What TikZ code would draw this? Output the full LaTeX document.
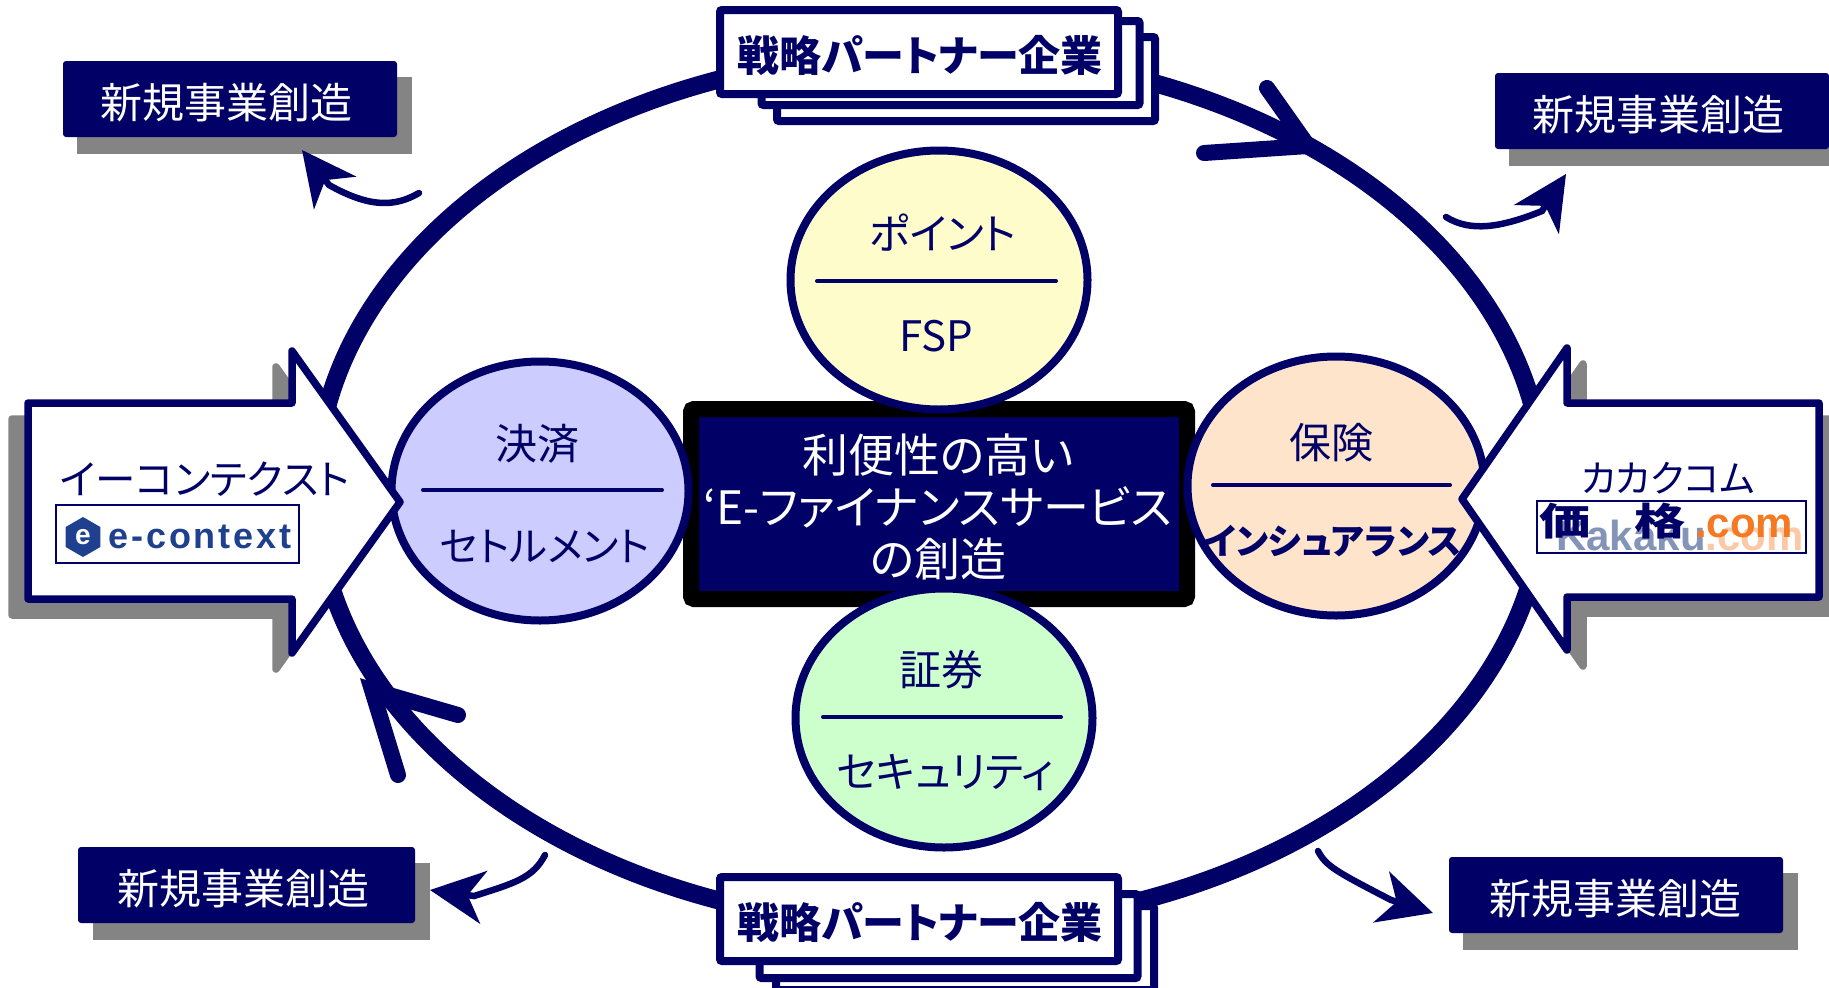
\documentclass[tikz,border=0pt]{standalone}
\usepackage{fontspec}
\usepackage{graphicx}
\setmainfont[RawFeature=+palt]{Noto Sans CJK JP}
\newfontfamily\logofont[LetterSpace=8]{Liberation Sans}
\newfontfamily\webfont{Liberation Sans}
\usetikzlibrary{shapes.geometric,arrows.meta}
\definecolor{navy}{HTML}{000066}
\definecolor{shadegray}{HTML}{848484}
\definecolor{logoblue}{HTML}{1F3F8F}
\definecolor{logopale}{HTML}{8494B8}
\definecolor{logoorange}{HTML}{F47920}
\tikzset{
  ringline/.style={draw=navy,line width=18pt},
  ringtip/.style={draw=navy,line width=16pt,line cap=round},
  hubbox/.style={rectangle,draw=black,fill=navy,line width=16pt,rounded corners=3pt},
  hubtext/.style={text=white,align=center,inner sep=0pt,font=\fontsize{46}{52}\selectfont},
  stackbox/.style={rectangle,draw=navy,fill=white,line width=8pt,rounded corners=2pt,minimum width=378pt,minimum height=84pt},
  stacktext/.style={text=navy,inner sep=0pt,font=\fontsize{42}{42}\selectfont\bfseries},
  newbiz/.style={rectangle,fill=navy,rounded corners=3pt,minimum width=334pt,minimum height=76pt},
  biztext/.style={text=white,inner sep=0pt,font=\fontsize{42}{42}\selectfont},
  bubble/.style={ellipse,draw=navy,line width=8pt,minimum width=297pt,minimum height=259pt,inner sep=0pt},
  bubbletext/.style={text=navy,inner sep=0pt,font=\fontsize{42}{42}\selectfont},
  divider/.style={draw=navy,line width=4pt,line cap=round},
  bigarrow/.style={draw=navy,fill=white,line width=7.5pt,line join=round},
  arrowshade/.style={draw=shadegray,fill=shadegray,line width=7.5pt,line join=round},
  logobox/.style={rectangle,draw=navy,fill=white,line width=1.5pt},
  curvedarrow/.style={draw=navy,line width=6.5pt,line cap=round,-{Stealth[length=54pt,width=53pt,inset=16pt,sep=0pt]}}
}
\begin{document}
\begin{tikzpicture}[x=1pt,y=-1pt]
\useasboundingbox (0,0) rectangle (1829,988);
% ring and its two tips
\draw[ringline] (930,490) ellipse [x radius=614pt,y radius=437pt];
\coordinate (tiptop) at (1308,146);
\coordinate (tipbot) at (372,690);
\draw[ringtip] (1267,88) -- (tiptop) -- (1204,153);
\draw[ringtip] (458,715) -- (tipbot) -- (398,775);
% partner stacks
\node[stackbox] (top3) at (966,79) {};
\node[stackbox] (top2) at (950.5,63) {};
\node[stackbox,minimum width=398pt] (top1) at (919,52) {};
\node[stacktext] (toptext) at (920,55.5) {戦略パートナー企業};
\node[stackbox] (bot3) at (965,948) {};
\node[stackbox] (bot2) at (948.5,936) {};
\node[stackbox,minimum width=398pt] (bot1) at (919,919) {};
\node[stacktext] (bottext) at (920,922.5) {戦略パートナー企業};
% centre
\node[hubbox,minimum width=496pt,minimum height=190pt] (hub) at (939,504) {};
\node[hubtext] (hubtxt) at (938,507.5) {利便性の高い\\‘E-ファイナンスサービス\\の創造};
% bubbles
\node[bubble,fill=yellow!20] (fsp) at (939,280) {};
\draw[divider] (817,281) -- (1056,281);
\node[bubbletext] (fspup) at (943,233) {ポイント};
\node[bubbletext] (fspdown) at (936,336) {FSP};
\node[bubble,fill={rgb,255:red,204;green,204;blue,255}] (settle) at (540,491) {};
\draw[divider] (423,490) -- (662,490);
\node[bubbletext] (settleup) at (537,444) {決済};
\node[bubbletext,font=\fontsize{40.5}{40.5}\selectfont] (settledown) at (545,546) {セトルメント};
\node[bubble,fill={rgb,255:red,255;green,228;blue,204}] (ins) at (1336,486) {};
\draw[divider] (1213,485) -- (1450,485);
\node[bubbletext] (insup) at (1331,443) {保険};
\node[bubbletext,font=\fontsize{35.5}{35.5}\selectfont\bfseries] (insdown) at (1333,541) {インシュアランス};
\node[bubble,fill={rgb,255:red,204;green,255;blue,204}] (sec) at (944,718) {};
\draw[divider] (823,717) -- (1061,717);
\node[bubbletext] (secup) at (941,670) {証券};
\node[bubbletext] (secdown) at (945,773) {セキュリティ};
% left arrow
\draw[arrowshade,shift={(-16,16)}] (28,403) -- (292,403) -- (292,351) -- (400,502) -- (292,653) -- (292,599) -- (28,599) -- cycle;
\draw[bigarrow] (28,403) -- (292,403) -- (292,351) -- (400,502) -- (292,653) -- (292,599) -- (28,599) -- cycle;
\node[bubbletext,font=\fontsize{40.5}{40.5}\selectfont] (leftname) at (205,479) {イーコンテクスト};
\node[logobox,minimum width=243pt,minimum height=58pt] (leftlogo) at (177.5,534) {};
\node[regular polygon,regular polygon sides=6,shape border rotate=90,fill=logoblue,minimum size=40pt,inner sep=0pt,text=white,font=\logofont\fontsize{28}{28}\selectfont\bfseries] (lefthex) at (83,537) {e};
\node[text=logoblue,inner sep=0pt,font=\logofont\fontsize{36}{36}\selectfont\bfseries] (lefttext) at (200,537) {e-context};
% right arrow
\draw[arrowshade,shift={(16,16)}] (1819,403) -- (1567,403) -- (1567,348) -- (1462,499) -- (1567,650) -- (1567,597) -- (1819,597) -- cycle;
\draw[bigarrow] (1819,403) -- (1567,403) -- (1567,348) -- (1462,499) -- (1567,650) -- (1567,597) -- (1819,597) -- cycle;
\node[bubbletext,font=\fontsize{37.5}{37.5}\selectfont] (rightname) at (1668,478) {カカクコム};
\node[logobox,minimum width=269pt,minimum height=52pt] (rightlogo) at (1671.5,527) {};
\node[inner sep=0pt,font=\webfont\fontsize{42}{42}\selectfont\bfseries] (rightback) at (1680,535) {\color{logopale}Kakaku\color{logoorange!40}.com};
\node[text=navy,inner sep=0pt,font=\fontsize{38}{38}\selectfont\bfseries] (rightkan1) at (1565,521) {\scalebox{1.35}[1]{価}};
\node[text=navy,inner sep=0pt,font=\fontsize{38}{38}\selectfont\bfseries] (rightkan2) at (1660,521) {\scalebox{1.35}[1]{格}};
\node[text=logoorange,inner sep=0pt,font=\webfont\fontsize{42}{42}\selectfont\bfseries] (rightcom) at (1744,526) {.com};
% new business boxes
\fill[shadegray] (77,77) rectangle (412,154);
\node[newbiz] (biz1) at (230,99) {};
\node[biztext] (biz1txt) at (226.5,102.5) {新規事業創造};
\fill[shadegray] (1509,88) rectangle (1829,166);
\node[newbiz] (biz2) at (1662,111) {};
\node[biztext] (biz2txt) at (1658.5,114.5) {新規事業創造};
\fill[shadegray] (93,863) rectangle (430,940);
\node[newbiz,minimum width=337pt] (biz3) at (246.5,885) {};
\node[biztext] (biz3txt) at (243.5,888.5) {新規事業創造};
\fill[shadegray] (1463,873) rectangle (1798,950);
\node[newbiz] (biz4) at (1616,895) {};
\node[biztext] (biz4txt) at (1615.5,898.5) {新規事業創造};
% curved arrows
\coordinate (tail1) at (419,193);
\coordinate (head1) at (302,150);
\draw[curvedarrow] (tail1) .. controls (395,207) and (370,208) .. (329,185) -- (head1);
\coordinate (tail2) at (1446,217);
\coordinate (head2) at (1566,174);
\draw[curvedarrow] (tail2) .. controls (1470,232) and (1500,228) .. (1542,211) -- (head2);
\coordinate (tail3) at (545,855);
\coordinate (head3) at (430,890);
\draw[curvedarrow] (tail3) .. controls (533,878) and (515,883) .. (474,896) -- (head3);
\coordinate (tail4) at (1318,851);
\coordinate (head4) at (1433,913);
\draw[curvedarrow] (tail4) .. controls (1326,866) and (1335,871) .. (1391,900) -- (head4);
\end{tikzpicture}
\end{document}
